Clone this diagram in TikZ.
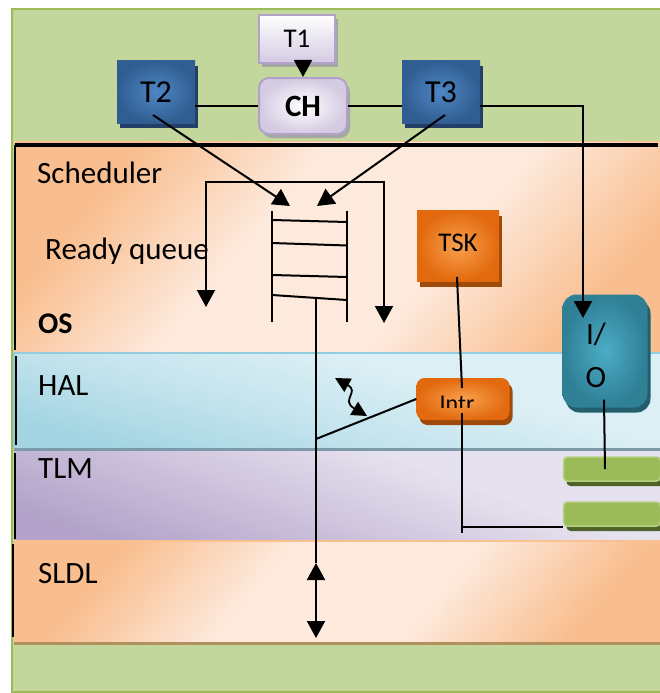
\documentclass[tikz,border=0pt]{standalone}
\usepackage{fontspec}
\setmainfont{Carlito}
\usetikzlibrary{arrows.meta,shadows}

% layer and box colours
\definecolor{frameGreen}{HTML}{C3D69B}
\definecolor{frameGreenLine}{HTML}{9BBB59}
\definecolor{osLight}{HTML}{FDEADD}
\definecolor{osDark}{HTML}{F9BE8F}
\definecolor{osLine}{HTML}{FAC090}
\definecolor{halLight}{HTML}{DCEFF5}
\definecolor{halDark}{HTML}{A2D4E2}
\colorlet{halMid}{halLight!55!halDark}
\definecolor{halLine}{HTML}{93CDDD}
\definecolor{halBase}{HTML}{7D9AAA}
\definecolor{tlmLight}{HTML}{E6E1EE}
\definecolor{tlmDark}{HTML}{B3A3CA}
\colorlet{tlmMid}{tlmLight!55!tlmDark}
\definecolor{sldlBase}{HTML}{B0915D}
\definecolor{taskBlueIn}{HTML}{4F86C4}
\definecolor{taskBlueOut}{HTML}{305E92}
\definecolor{taskBlueShadow}{HTML}{243F66}
\definecolor{chLine}{HTML}{B3A2C7}
\definecolor{chLav}{HTML}{D4CAE2}
\definecolor{tskIn}{HTML}{F9A04D}
\definecolor{tskOut}{HTML}{E2690E}
\definecolor{tskShadow}{HTML}{9E4A0A}
\definecolor{ioIn}{HTML}{4BACC6}
\definecolor{ioOut}{HTML}{2F7F95}
\definecolor{ioShadow}{HTML}{215E6E}
\definecolor{busFill}{HTML}{9BBB59}
\definecolor{busLine}{HTML}{B6D07F}
\definecolor{busShadow}{HTML}{4F6228}

% diagonal band shading: dark corners, wide light stripe through the middle
\pgfdeclarehorizontalshading{diagband}{100bp}{color(0bp)=(osDark); color(26bp)=(osDark); color(42bp)=(osLight); color(60bp)=(osLight); color(76bp)=(osDark); color(100bp)=(osDark)}
\pgfdeclareverticalshading{halband}{100bp}{color(0bp)=(halDark); color(25bp)=(halDark); color(42bp)=(halMid); color(60bp)=(halLight); color(100bp)=(halLight)}
\pgfdeclareverticalshading{tlmband}{100bp}{color(0bp)=(tlmDark); color(25bp)=(tlmDark); color(45bp)=(tlmMid); color(62bp)=(tlmLight); color(100bp)=(tlmLight)}

\begin{document}
\begin{tikzpicture}[x=1pt,y=-1pt,
  conn/.style={line width=2pt, black},
  arr/.style={conn, -{Triangle[length=17pt,width=18pt]}},
  arrboth/.style={conn, {Triangle[length=17pt,width=18pt]}-{Triangle[length=17pt,width=18pt]}},
  smallboth/.style={line width=1.8pt, {Triangle[length=15pt,width=15pt]}-{Triangle[length=15pt,width=15pt]}},
  lbl/.style={font=\fontsize{31}{36}\selectfont, anchor=base west, inner sep=0pt},
  taskbox/.style={minimum width=78pt, minimum height=62pt, inner sep=0pt,
    inner color=taskBlueIn, outer color=taskBlueOut,
    drop shadow={shadow xshift=3pt, shadow yshift=-5pt, fill=taskBlueShadow, opacity=1},
    font=\fontsize{32}{36}\selectfont},
  orangebox/.style={inner sep=0pt, inner color=tskIn, outer color=tskOut,
    drop shadow={shadow xshift=3pt, shadow yshift=-5pt, fill=tskShadow, opacity=1}},
  busbar/.style={minimum width=97pt, minimum height=24pt, inner sep=0pt, rounded corners=4pt,
    fill=busFill, draw=busLine, line width=1.5pt,
    drop shadow={shadow xshift=3pt, shadow yshift=-5pt, fill=busShadow, opacity=1}},
]

\useasboundingbox (0,0) rectangle (660,693);
\fill[white] (0,0) rectangle (660,693);

% outer green frame
\draw[fill=frameGreen, draw=frameGreenLine, line width=2pt] (12,9) rectangle (662,692);

% OS layer
\shade[shading=diagband, shading angle=-40] (14,141) rectangle (660,352);
\draw[osLine, line width=1pt] (14,141) -- (660,141);
% HAL layer
\shade[shading=halband, shading angle=-15] (14,352) rectangle (660,448);
\draw[halLine, line width=2pt] (14,353) -- (660,353);
\draw[halLine, line width=2pt] (14,353) -- (14,448);
\draw[halBase, line width=3.5pt] (14,449.5) -- (660,449.5);
% TLM layer
\shade[shading=tlmband, shading angle=-20] (14,451) rectangle (660,540);
% SLDL layer
\shade[shading=diagband, shading angle=-40] (14,541) rectangle (660,642);
\draw[osLine, line width=2pt] (14,541) -- (660,541);
\draw[sldlBase, line width=3.5pt] (14,643.5) -- (660,643.5);

% frame lines of the layer stack
\draw[black, line width=3.5pt] (15,145) -- (658,145);
\draw[black, line width=1.8pt] (15,145) -- (15,350);
\draw[black, line width=1.8pt] (16,356) -- (16,445);
\draw[black, line width=1.8pt] (15,453) -- (15,539);
\draw[black, line width=1.8pt] (13,544) -- (13,637);

% layer labels
\node[lbl] (schedLbl) at (37,183) {Scheduler};
\node[lbl] (rqLbl) at (45,259) {Ready queue};
\node[lbl, font=\fontsize{30}{36}\selectfont\bfseries] (osLbl) at (38,333) {OS};
\node[lbl] (halLbl) at (38,395) {HAL};
\node[lbl] (tlmLbl) at (38,478) {TLM};
\node[lbl] (sldlLbl) at (38,583) {SLDL};

% tasks and channel
\node[minimum width=76pt, minimum height=48pt, inner sep=0pt, top color=white, bottom color=chLav,
  draw=chLine, line width=2pt, drop shadow={shadow xshift=3pt, shadow yshift=-4pt, fill=gray!70, opacity=1},
  font=\fontsize{27}{32}\selectfont] (t1) at (297,39) {\raisebox{-4pt}{T1}};
\node[minimum width=88pt, minimum height=56pt, inner sep=0pt, rounded corners=10pt,
  inner color=white, outer color=chLav, draw=chLine, line width=2pt,
  drop shadow={shadow xshift=3pt, shadow yshift=-4pt, fill=gray!70, opacity=1},
  font=\fontsize{31}{34}\selectfont\bfseries] (ch) at (303,106) {\raisebox{-3pt}{CH}};
\node[taskbox] (t2) at (156,92) {T2};
\node[taskbox] (t3) at (441,92) {T3};

% OS side boxes
\node[orangebox, minimum width=82pt, minimum height=71pt, font=\fontsize{27}{30}\selectfont] (tsk) at (458,246) {\raisebox{6pt}{TSK}};
\node[orangebox, minimum width=93pt, minimum height=42pt, rounded corners=8pt] (intr) at (463,399) {};
\begin{scope}
  \clip (417,378) rectangle (510,407);
  \node[font=\fontsize{24}{28}\selectfont, anchor=base, inner sep=0pt] (intrTxt) at (457,411) {Intr};
\end{scope}
\node[minimum width=85pt, minimum height=113pt, inner sep=0pt, rounded corners=14pt,
  inner color=ioIn, outer color=ioOut,
  drop shadow={shadow xshift=3pt, shadow yshift=-5pt, fill=ioShadow, opacity=1}] (io) at (605,351) {};
\node[font=\fontsize{31}{43}\selectfont, align=center, inner sep=0pt] (ioTxt) at (596,355) {I/\\O};

% TLM bus bars
\node[busbar] (bar1) at (612,469) {};
\node[busbar] (bar2) at (612,514) {};

% ready queue
\coordinate (qTL) at (272,211);
\coordinate (qBL) at (272,322);
\coordinate (qTR) at (347,211);
\coordinate (qBR) at (347,322);
\draw[conn] (qTL) -- (qBL);
\draw[conn] (qTR) -- (qBR);
\draw[conn] (272,220) -- (347,222);
\draw[conn] (272,243) -- (347,245.5);
\draw[conn] (272,275) -- (347,277);
\draw[conn] (272,295) -- (347,300);

% connectors
\coordinate (qInL) at (290,206);
\coordinate (qInR) at (317,206);
\coordinate (distL) at (206,307);
\coordinate (distR) at (384,182);
\coordinate (distREnd) at (384,323);
\coordinate (qOut) at (316,298);
\coordinate (qMid) at (316,439);
\coordinate (sldlUp) at (316,563);
\coordinate (sldlDown) at (316,638);
\coordinate (ioIn) at (583,318);
\coordinate (intrDown) at (462,533);

\draw[arr] (ch.north |- t1.south) -- (ch.north);
\draw[conn] (ch.west -| t2.east) -- (ch.west);
\draw[conn] (ch.east) -- (ch.east -| t3.west);
\draw[arr] (ch.east -| t3.east) -| (ioIn);
\draw[arr] ([xshift=-3pt,yshift=-23pt]t2.center) -- (qInL);
\draw[arr] ([xshift=4pt,yshift=-23pt]t3.center) -- (qInR);
\draw[arrboth] (distL) |- (distR) -- (distREnd);
\draw[conn] (qOut) -- (sldlUp);
\draw[arrboth] (sldlUp) -- (sldlDown);
\draw[conn] (qMid) -- (intr.west);
\draw[smallboth] (335,378) .. controls (360,392) and (340,400) .. (367,416);
\draw[conn] ([xshift=-1pt,yshift=-31pt]tsk.center) -- ([xshift=-1pt,yshift=11pt]intr.center);
\draw[conn] ([xshift=-1pt,yshift=-14pt]intr.center) -- (intrDown);
\draw[conn] (bar2.south west -| intrDown) -- (bar2.south west);
\draw[conn] ([xshift=-1pt,yshift=8pt]io.south) -- (bar1.center -| io.south);

\end{tikzpicture}
\end{document}
